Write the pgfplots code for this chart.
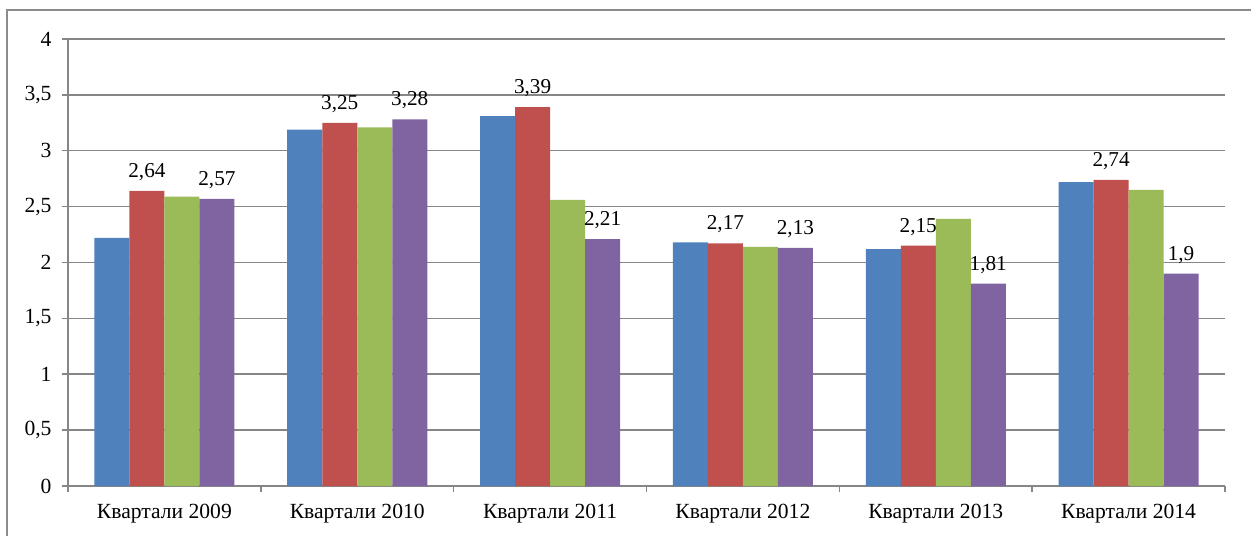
\documentclass[border=0pt]{standalone}
\usepackage{pgfplots}
\pgfplotsset{compat=1.18}
\usepackage{fontspec}
\setmainfont{Liberation Serif}
\definecolor{cb}{HTML}{4F81BD}
\definecolor{cr}{HTML}{C0504D}
\definecolor{cg}{HTML}{9BBB59}
\definecolor{cp}{HTML}{8064A2}
\definecolor{gridgray}{HTML}{868686}
\definecolor{framegray}{HTML}{8C8C8C}
\begin{document}
\fontsize{10.6}{12.7}\selectfont
\begin{tikzpicture}
\useasboundingbox (-34pt,-24.5pt) rectangle (591.5pt,243pt);
\begin{axis}[
 at={(0,0)}, anchor=south west, scale only axis,
 width=578.5pt, height=223.5pt,
 ybar=0pt, bar width=17.5pt,
 xmin=-0.5, xmax=5.5, ymin=0, ymax=4,
 enlargelimits=false, clip=false,
 xtick={0,...,5},
 xticklabels={Квартали 2009,Квартали 2010,Квартали 2011,Квартали 2012,Квартали 2013,Квартали 2014},
 minor xtick={-0.5,0.5,1.5,2.5,3.5,4.5,5.5},
 ytick={0,0.5,...,4},
 axis x line*=bottom, axis y line*=left,
 axis line style={draw=gridgray, line width=0.75pt, -},
 tick style={draw=gridgray, line width=0.75pt},
 major x tick style={draw=none},
 tick align=outside, major tick length=3pt, minor tick length=3pt,
 ymajorgrids, grid style={draw=gridgray, line width=0.75pt},
 /pgf/number format/assume math mode=true,
 /pgf/number format/use comma,
 ticklabel style={font=\fontsize{10.8}{12.7}\selectfont},
 xticklabel style={yshift=-2.5pt},
 yticklabel style={xshift=-1.5pt},
 every node near coord/.append style={font=\fontsize{10.6}{12.7}\selectfont, anchor=south, inner sep=0pt, yshift=5pt, text=black},
]
\addplot[fill=cb, draw=none] coordinates {(0,2.22) (1,3.19) (2,3.31) (3,2.18) (4,2.12) (5,2.72)};
\addplot[fill=cr, draw=none, nodes near coords] coordinates {(0,2.64) (1,3.25) (2,3.39) (3,2.17) (4,2.15) (5,2.74)};
\addplot[fill=cg, draw=none] coordinates {(0,2.59) (1,3.21) (2,2.56) (3,2.14) (4,2.39) (5,2.65)};
\addplot[fill=cp, draw=none, nodes near coords] coordinates {(0,2.57) (1,3.28) (2,2.21) (3,2.13) (4,1.81) (5,1.9)};
\end{axis}
\draw[framegray, line width=0.75pt] (-30.5pt,-40pt) -- (-30.5pt,238pt) -- (620pt,238pt);
\end{tikzpicture}
\end{document}
